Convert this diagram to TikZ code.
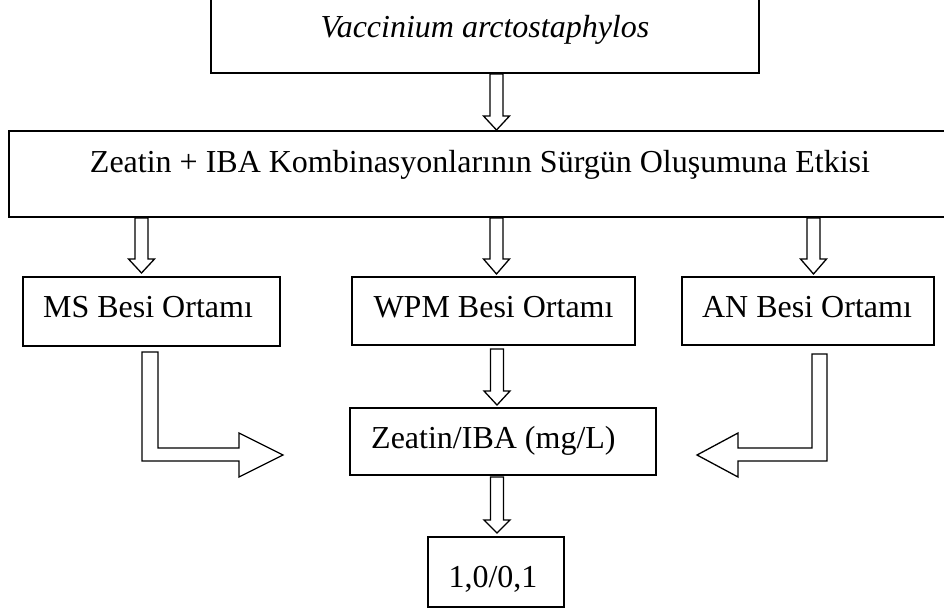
\documentclass[tikz,border=0pt]{standalone}
\usepackage{fontspec}
\setmainfont{Liberation Serif}
\begin{document}
\begin{tikzpicture}[x=1pt,y=-1pt,
  box/.style={draw=black,line width=1.3pt,rectangle,inner sep=0pt},
  lbl/.style={anchor=base,inner sep=0pt,font=\fontsize{32}{38}\selectfont},
  blk/.style={draw=black,line width=1.3pt,fill=white,line join=miter}]
\clip (0,0) rectangle (944,611);
\fill[white] (0,0) rectangle (944,611);
% boxes (corners measured in px)
\newcommand\bx[5]{\node[box,minimum width={#4-#2},minimum height={#5-#3}] (#1) at ({(#2+#4)/2},{(#3+#5)/2}) {};}
\bx{top}{211}{-20}{759}{73}
\bx{main}{9}{131}{960}{217}
\bx{ms}{23}{277}{280}{346}
\bx{wpm}{352}{277}{635}{345}
\bx{an}{682}{277}{934}{345}
\bx{zi}{350}{408}{656}{475}
\bx{res}{428}{537}{564}{607}
% labels
\node[lbl] (ttop) at (485,37) {\itshape Vaccinium arctostaphylos};
\node[lbl] (tmain) at (480,172) {Zeatin + IBA Kombinasyonlarının Sürgün Oluşumuna Etkisi};
\node[lbl] (tms) at (148,317) {MS Besi Ortamı};
\node[lbl] (twpm) at (493.5,317) {WPM Besi Ortamı};
\node[lbl] (tan) at (807,317) {AN Besi Ortamı};
\node[lbl,anchor=base west] (tzi) at (371,448) {Zeatin/IBA (mg/L)};
\node[lbl] (tres) at (493,587) {1,0/0,1};
% straight block arrows: x, top, head base, tip
\newcommand\dn[4]{\draw[blk] ({#1-6.5},#2) -- ({#1+6.5},#2) -- ({#1+6.5},#3) -- ({#1+13},#3) -- (#1,#4) -- ({#1-13},#3) -- ({#1-6.5},#3) -- cycle;}
\dn{496.5}{74}{116}{130}
\dn{141.5}{218}{259}{273}
\dn{496.5}{218}{259}{274}
\dn{813.5}{218}{259}{274}
\dn{497}{349}{391}{405}
\dn{497}{477}{520}{533}
% L-shaped block arrows
\draw[blk] (142,352) -- (158,352) -- (158,448) -- (239,448) -- (239,433) -- (283,455) -- (239,477) -- (239,461) -- (142,461) -- cycle;
\draw[blk] (812,354) -- (827,354) -- (827,461) -- (738,461) -- (738,477) -- (697,455) -- (738,433) -- (738,448) -- (812,448) -- cycle;
\end{tikzpicture}
\end{document}
